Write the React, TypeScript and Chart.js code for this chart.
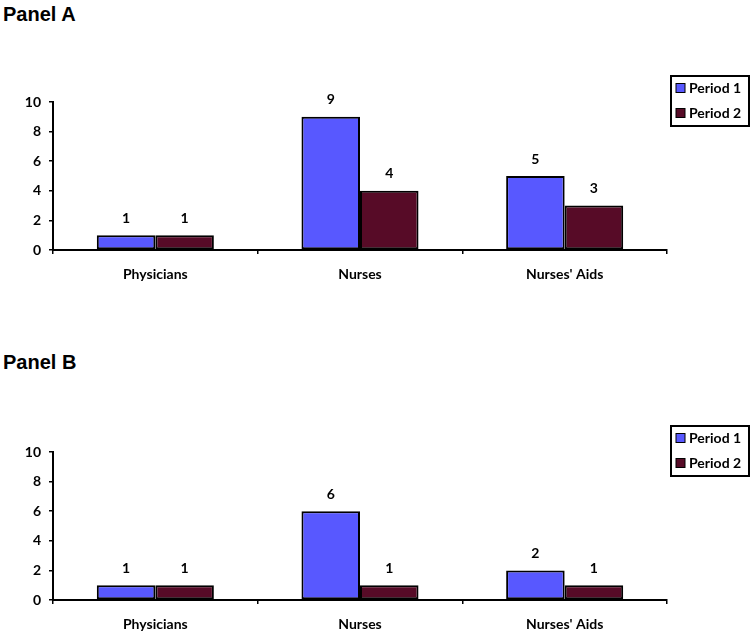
import React, { useEffect, useRef } from 'react';
import { Chart, registerables } from 'chart.js';

Chart.register(...registerables);

const categories = ['Physicians', 'Nurses', "Nurses' Aids"];
const seriesLabels = ['Period 1', 'Period 2'];
const seriesColors = ['#5858FF', '#570B27'];
const panelAPeriod1 = [1, 9, 5];
const panelAPeriod2 = [1, 4, 3];
const panelBPeriod1 = [1, 6, 2];
const panelBPeriod2 = [1, 1, 1];
const yMin = 0;
const yMax = 10;
const yStep = 2;
const panelTitles = ['Panel A', 'Panel B'];

const FONT = 'Lato, "Open Sans", sans-serif';

const valueLabelPlugin = {
  id: 'valueLabels',
  afterDatasetsDraw(chart: any) {
    const ctx = chart.ctx;
    ctx.save();
    ctx.fillStyle = '#000';
    ctx.font = `bold 14px ${FONT}`;
    ctx.textAlign = 'center';
    ctx.textBaseline = 'middle';
    chart.data.datasets.forEach((ds: any, i: number) => {
      const meta = chart.getDatasetMeta(i);
      meta.data.forEach((el: any, j: number) => {
        ctx.fillText(String(ds.data[j]), el.x, el.y - 17);
      });
    });
    ctx.restore();
  },
};

const boxLegendPlugin = {
  id: 'boxLegend',
  afterDraw(chart: any) {
    const ctx = chart.ctx;
    const area = chart.chartArea;
    const left = area.right + 4;
    const top = area.top - 26;
    const w = 78;
    const h = 50;
    ctx.save();
    ctx.lineWidth = 2;
    ctx.strokeStyle = '#000';
    ctx.strokeRect(left, top, w, h);
    ctx.font = `bold 14px ${FONT}`;
    ctx.textBaseline = 'middle';
    ctx.textAlign = 'left';
    chart.data.datasets.forEach((ds: any, i: number) => {
      const cy = top + 12 + i * 25;
      ctx.fillStyle = ds.backgroundColor;
      ctx.fillRect(left + 5, cy - 4.5, 9, 9);
      ctx.lineWidth = 1;
      ctx.strokeRect(left + 5, cy - 4.5, 9, 9);
      ctx.fillStyle = '#000';
      ctx.fillText(ds.label, left + 18, cy + 0.5);
    });
    ctx.restore();
  },
};

function PanelChart({ p1, p2 }: { p1: number[]; p2: number[] }) {
  const ref = useRef<HTMLCanvasElement | null>(null);
  useEffect(() => {
    if (!ref.current) return;
    const chart = new Chart(ref.current, {
      type: 'bar',
      data: {
        labels: categories,
        datasets: [
          {
            label: seriesLabels[0],
            data: p1,
            backgroundColor: seriesColors[0],
            borderColor: '#000',
            borderWidth: 2,
            borderSkipped: false,
          },
          {
            label: seriesLabels[1],
            data: p2,
            backgroundColor: seriesColors[1],
            borderColor: '#000',
            borderWidth: 2,
            borderSkipped: false,
          },
        ],
      },
      options: {
        responsive: false,
        animation: false,
        devicePixelRatio: 1,
        layout: { padding: { left: 0, right: 87, top: 62, bottom: 0 } },
        datasets: { bar: { categoryPercentage: 0.572, barPercentage: 1 } },
        plugins: {
          legend: { display: false },
          tooltip: { enabled: false },
          title: { display: false },
        },
        scales: {
          x: {
            afterFit: (s: any) => {
              s.height = 60;
            },
            grid: {
              display: true,
              offset: true,
              drawOnChartArea: false,
              drawTicks: true,
              tickLength: 4,
              color: '#000',
              lineWidth: 1.5,
            },
            border: { display: true, color: '#000', width: 2 },
            ticks: {
              color: '#000',
              padding: 12,
              font: { family: FONT, weight: 'bold', size: 14 },
            },
          },
          y: {
            min: yMin,
            max: yMax,
            afterFit: (s: any) => {
              s.width = 53;
            },
            grid: {
              display: true,
              drawOnChartArea: false,
              drawTicks: true,
              tickLength: 4,
              color: '#000',
              lineWidth: 1.5,
            },
            border: { display: true, color: '#000', width: 2 },
            ticks: {
              stepSize: yStep,
              color: '#000',
              padding: 8,
              font: { family: FONT, weight: 'bold', size: 14 },
            },
          },
        },
      },
      plugins: [valueLabelPlugin, boxLegendPlugin],
    } as any);
    return () => chart.destroy();
  }, [p1, p2]);
  return <canvas ref={ref} width={754} height={270} style={{ display: 'block' }} />;
}

const titleStyle: React.CSSProperties = {
  position: 'absolute',
  left: 3,
  fontFamily: '"Liberation Sans", Arial, sans-serif',
  fontWeight: 'bold',
  fontSize: 20,
  lineHeight: '20px',
  color: '#000',
};

export default function App() {
  return (
    <div
      style={{
        position: 'absolute',
        left: 0,
        top: 0,
        width: 754,
        height: 636,
        background: '#fff',
        overflow: 'hidden',
      }}
    >
      <div style={{ ...titleStyle, top: 4 }}>{panelTitles[0]}</div>
      <div style={{ position: 'absolute', left: 0, top: 40 }}>
        <PanelChart p1={panelAPeriod1} p2={panelAPeriod2} />
      </div>
      <div style={{ ...titleStyle, top: 352 }}>{panelTitles[1]}</div>
      <div style={{ position: 'absolute', left: 0, top: 390 }}>
        <PanelChart p1={panelBPeriod1} p2={panelBPeriod2} />
      </div>
    </div>
  );
}
